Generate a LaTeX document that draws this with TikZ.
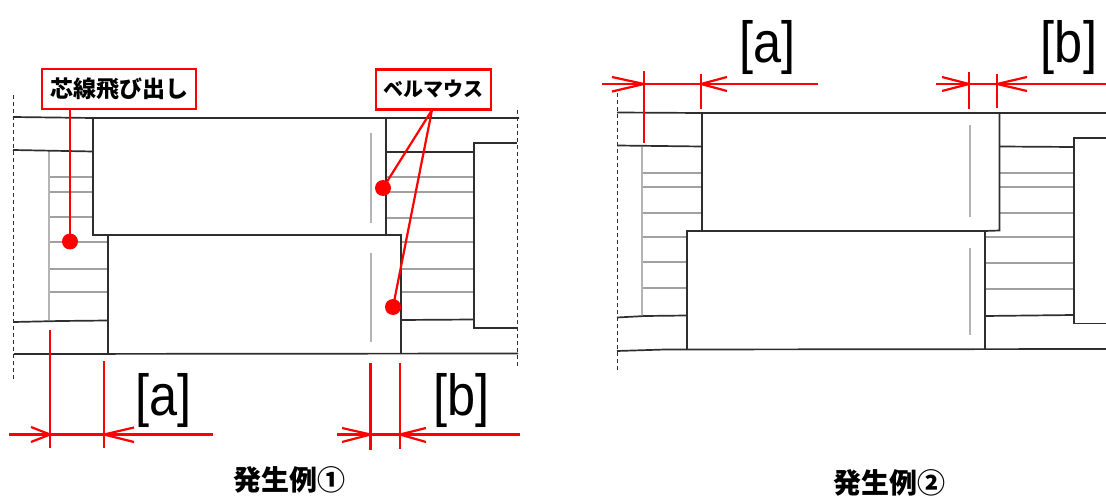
\documentclass[tikz,border=0pt]{standalone}
\usepackage{fontspec}
\newfontfamily\jpfont{Noto Sans CJK JP}
\newfontfamily\dimfont{Liberation Sans}
\definecolor{ink}{HTML}{2E2E2E}
\definecolor{pale}{HTML}{B4B4B4}
\definecolor{mid}{HTML}{A0A0A0}
\definecolor{callred}{HTML}{FF0000}
\tikzset{
  ln/.style={draw=ink,line width=1.7pt},
  hatchln/.style={draw=mid,line width=1.2pt},
  paleln/.style={draw=pale,line width=1.5pt},
  dashln/.style={draw=ink,line width=.9pt,dash pattern=on 4pt off 3pt},
  redln/.style={draw=callred,line width=2.2pt},
  callbox/.style={draw=callred,line width=2.2pt,fill=white,inner sep=0pt,minimum height=40pt},
  reddot/.style={circle,fill=callred,inner sep=0pt,minimum size=16pt},
  dimtxt/.style={inner sep=0pt,font=\dimfont\fontsize{58}{58}\selectfont,text=black},
  captxt/.style={inner sep=0pt,font=\jpfont\bfseries\fontsize{28}{28}\selectfont,text=black}
}
\newcommand{\narrowdim}[1]{\scalebox{.87}[1]{#1}}
\begin{document}
\begin{tikzpicture}[x=1pt,y=-1pt]
\useasboundingbox (0,0) rectangle (1106,497);
% ---------- left figure ----------
\draw[dashln] (13,95) -- (13,379);
\draw[dashln] (517,110) -- (517,368);
\foreach \y in {177,192,217}{\draw[hatchln] (49,\y) -- (93,\y);}
\foreach \y in {242,269,292}{\draw[hatchln] (49,\y) -- (108,\y);}
\foreach \y in {177,192,218}{\draw[hatchln] (386,\y) -- (474,\y);}
\foreach \y in {242,269,292}{\draw[hatchln] (401,\y) -- (474,\y);}
\draw[paleln] (49,151) -- (49,320);
\draw[paleln] (371,133) -- (371,223);
\draw[paleln] (371,253) -- (371,342);
\draw[ln] (13,117) -- (93,118) -- (519,118);
\draw[ln] (13,150) -- (93,151.5);
\draw[ln] (14,322) -- (60,321) -- (108,320.5);
\draw[ln] (14,354) -- (518,353.5);
\draw[ln] (93,118) -- (93,235) -- (386,235);
\draw[ln] (386,118) -- (386,235);
\draw[ln] (108,235) -- (108,354);
\draw[ln] (386,235) -- (401,235) -- (401,354);
\draw[ln] (386,152) -- (474,152);
\draw[ln] (401,320) -- (474,319.5);
\draw[ln] (517,143) -- (474,143) -- (474,328) -- (517,328);
% callouts
\node[callbox,minimum width=154pt,font=\jpfont\bfseries\fontsize{23}{23}\selectfont] (boxa) at (119,89) {芯線飛び出し};
\node[callbox,minimum width=115pt,font=\jpfont\bfseries\fontsize{20}{20}\selectfont] (boxb) at (433.5,89.5) {ベルマウス};
\node[reddot] (dota) at (70,241.5) {};
\node[reddot] (dotb) at (383,188) {};
\node[reddot] (dotc) at (393,307) {};
\draw[redln] (70,109) -- (dota.center);
\draw[redln] (432,110) -- (dotb.center);
\draw[redln] (432,110) -- (dotc.center);
% dimensions
\draw[redln] (50,330) -- (50,448);
\draw[redln] (104,361) -- (104,448);
\draw[redln] (9,434.5) -- (213,434.5);
\draw[redln] (31,427) -- (50,434.5) -- (31,442);
\draw[redln] (134,427.5) -- (104,434.5) -- (134,442);
\draw[redln] (370.5,363) -- (370.5,450);
\draw[redln] (400,363) -- (400,449);
\draw[redln] (337,434.5) -- (520,434.5);
\draw[redln] (342,428) -- (370.5,434.5) -- (342,442);
\draw[redln] (426,428) -- (400,434.5) -- (426,442);
\node[dimtxt] (la) at (163.5,401) {\narrowdim{[a]}};
\node[dimtxt] (lb) at (461.5,401) {\narrowdim{[b]}};
\node[captxt] (capa) at (289,480) {発生例①};
% ---------- right figure ----------
\draw[dashln] (617,93) -- (617,372);
\foreach \y in {173,187,213}{\draw[hatchln] (642,\y) -- (702,\y);}
\foreach \y in {237,262,288}{\draw[hatchln] (642,\y) -- (687,\y);}
\foreach \y in {173,187,213}{\draw[hatchln] (1000,\y) -- (1074,\y);}
\foreach \y in {237,263,289}{\draw[hatchln] (985,\y) -- (1074,\y);}
\draw[paleln] (642,147) -- (642,315);
\draw[paleln] (970,125) -- (970,217);
\draw[paleln] (970,248) -- (970,335);
\draw[ln] (617,112.5) -- (702,113) -- (1106,113);
\draw[ln] (617,145.5) -- (702,146.5);
\draw[ln] (617,317.5) -- (645,316) -- (687,315.5);
\draw[ln] (617,351) -- (665,349.5) -- (1106,349);
\draw[ln] (702,113) -- (702,231);
\draw[ln] (999.5,113) -- (999.5,230.5) -- (985,231);
\draw[ln] (687,349) -- (687,231) -- (985,231) -- (985,349);
\draw[ln] (1000,146.5) -- (1074,147);
\draw[ln] (985,316) -- (1074,315);
\draw[ln] (1106,138) -- (1074,138) -- (1074,323.5) -- (1106,323.5);
\draw[redln] (644,71) -- (644,143);
\draw[redln] (701,74) -- (701,109);
\draw[redln] (602,84) -- (818,84);
\draw[redln] (612,77) -- (644,84) -- (612,91.5);
\draw[redln] (727,77) -- (701,84) -- (727,91);
\draw[redln] (969,72) -- (969,109);
\draw[redln] (997,74) -- (997,108);
\draw[redln] (936,84) -- (1106,84);
\draw[redln] (942,77) -- (969,84) -- (942,91);
\draw[redln] (1027,77) -- (997,84) -- (1027,91);
\node[dimtxt] (lc) at (767.5,48) {\narrowdim{[a]}};
\node[dimtxt] (ld) at (1069,48) {\narrowdim{[b]}};
\node[captxt] (capb) at (889,482.5) {発生例②};
\end{tikzpicture}
\end{document}
